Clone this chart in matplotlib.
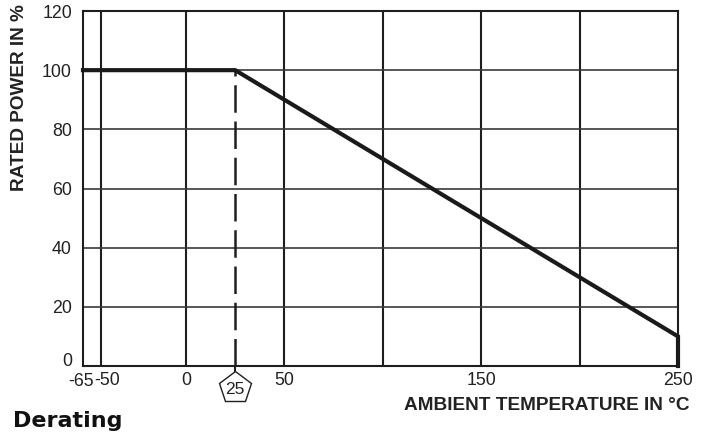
import numpy as np
import matplotlib
matplotlib.use("Agg")
import matplotlib.pyplot as plt
from matplotlib import transforms

# Derating curve: temperature (deg C) vs rated power (%)
temp = [-65, 25, 250, 250]
power = [100, 100, 10, 0]

# Axis tick positions / labels
xtick_vals = [-65, -50, 0, 50, 150, 250]
xtick_labels = ["-65", "-50", "0", "50", "150", "250"]
ytick_vals = [0, 20, 40, 60, 80, 100, 120]
grid_x = [-50, 0, 50, 100, 150, 200]
grid_y = [20, 40, 60, 80, 100]
rated_temp = 25

# The x axis of the original is squeezed between -65 and 0
brk_data = [-65, -50, 0, 250]
brk_pos = [0, 18, 103, 595]


def fwd(x):
    return np.interp(x, brk_data, brk_pos)


def inv(p):
    return np.interp(p, brk_pos, brk_data)


def nudge(label, dx, dy):
    # shift a tick label by a few pixels
    label.set_transform(label.get_transform() +
                        transforms.ScaledTranslation(dx / 100, dy / 100, fig.dpi_scale_trans))


plt.rcParams['font.family'] = ['Liberation Sans', 'DejaVu Sans']

fig = plt.figure(figsize=(7.08, 4.34), dpi=100)
ax = fig.add_axes([83 / 708, 1 - 366 / 434, 595 / 708, 355 / 434])
ax.set_xscale('function', functions=(fwd, inv))
ax.set_xlim(-65, 250)
ax.set_ylim(0, 120)

# grid
for gx in grid_x:
    ax.axvline(gx, color='#1e1e1e', lw=1.5, zorder=1)
for gy in grid_y:
    ax.axhline(gy, color='#3a3a3a', lw=1.2, zorder=1)

for s in ax.spines.values():
    s.set_color('#1e1e1e')
    s.set_linewidth(1.5)

# dashed line at the rated temperature
ax.plot([rated_temp, rated_temp], [0, 100], color='#1e1e1e', lw=1.8,
        dashes=(11, 3.5), zorder=2)

# derating curve
ax.plot(temp, power, color='#1a1a1a', lw=3, solid_joinstyle='miter',
        zorder=3, clip_on=False)

# ticks
ax.set_xticks(xtick_vals)
ax.set_xticklabels(xtick_labels)
ax.set_yticks(ytick_vals)
ax.tick_params(length=0, labelsize=12.8, colors='#222222')
ax.tick_params(axis='y', pad=8)
ax.tick_params(axis='x', pad=4)

# nudge the crowded labels in the corner like the original
xl = ax.get_xticklabels()
nudge(xl[0], -2, -1)
nudge(xl[1], 6, 0)
yl = ax.get_yticklabels()
nudge(yl[0], 0, 6)

# pentagon marker with 25 below the axis
bt = transforms.blended_transform_factory(ax.transData, ax.transAxes)
ax.plot([rated_temp, rated_temp], [0, -0.02], color='#1e1e1e', lw=1.5,
        transform=bt, clip_on=False)
ax.plot([rated_temp], [-0.063], marker='p', markersize=24, mfc='white',
        mec='#1e1e1e', mew=1.0, transform=bt, clip_on=False)
ax.text(rated_temp, -0.066, "25", transform=bt, ha='center', va='center',
        fontsize=12.5, color='#222222')

# axis titles
fig.text(689 / 708, 1 - 405 / 434, "AMBIENT TEMPERATURE IN °C", ha='right',
         va='center', fontsize=13.7, fontweight='bold', color='#222222')
fig.text(20 / 708, 1 - 98 / 434, "RATED POWER IN %", rotation=90, ha='center',
         va='center', fontsize=13.7, fontweight='bold', color='#222222')
fig.text(13 / 708, 1 - 421 / 434, "Derating", ha='left', va='center',
         fontsize=16, fontweight='bold', color='#111111',
         family=['DejaVu Sans'])

fig.savefig("out.png", dpi=100)
